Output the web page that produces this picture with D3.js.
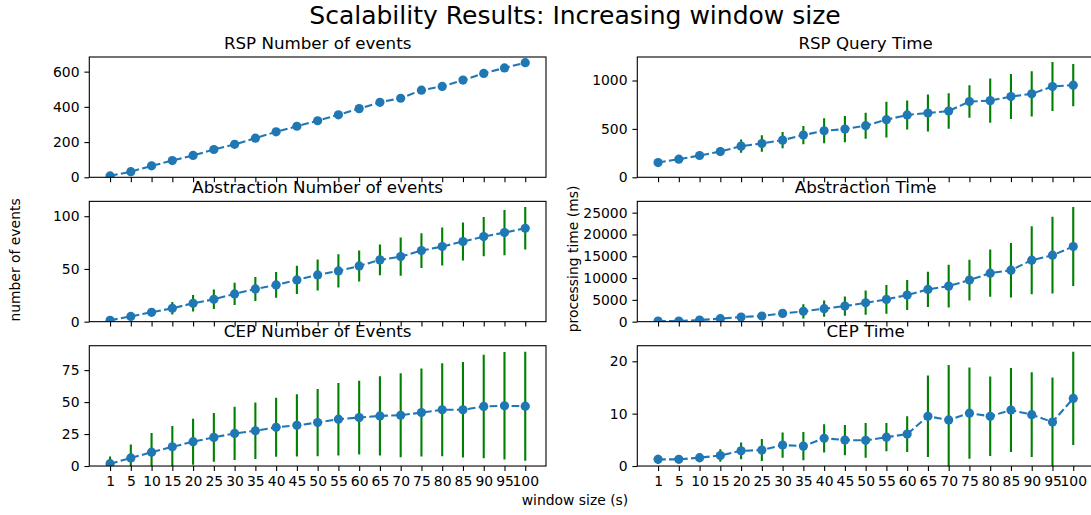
<!DOCTYPE html>
<html lang="en">
<head>
    <meta charset="UTF-8">
    <title>Scalability Results: Increasing window size</title>
    <script src="https://d3js.org/d3.v7.min.js"></script>
    <style>
        body {
            margin: 0;
            background: #fff;
            overflow: hidden;
        }
        svg {
            display: block;
            font-family: "DejaVu Sans", sans-serif;
        }
        .tick text {
            font-size: 13.9px;
            fill: #000;
        }
        .tick line {
            stroke: #000;
            stroke-width: 1.1;
        }
    </style>
</head>
<body>
    <script>
        // window sizes (categorical x axis)
        const windows = ["1", "5", "10", "15", "20", "25", "30", "35", "40", "45", "50",
                         "55", "60", "65", "70", "75", "80", "85", "90", "95", "100"];

        const rspEvents = [8, 32, 65, 95, 124, 158, 187, 222, 258, 290, 321, 355, 390, 426, 449, 495, 516, 552, 590, 621, 651];
        const rspEventsErr = [0, 0, 0, 0, 0, 0, 0, 0, 0, 0, 0, 0, 0, 0, 0, 0, 0, 0, 0, 0, 0];

        const rspTime = [152, 187, 225, 266, 322, 349, 384, 436, 481, 498, 533, 595, 644, 664, 685, 782, 792, 834, 862, 938, 952];
        const rspTimeErr = [15, 20, 30, 45, 69, 85, 83, 95, 130, 135, 135, 185, 149, 190, 183, 168, 228, 232, 233, 252, 218];

        const absEvents = [1.3, 5, 8.9, 12.7, 17.4, 21.2, 26.3, 31, 34.8, 39.6, 44.3, 48.1, 52.9, 58.6, 61.7, 67.4, 71.2, 76, 80.7, 84.5, 88.6];
        const absEventsErr = [0.5, 1.5, 3, 6, 7.8, 9.3, 10.5, 11.3, 12.2, 13.4, 14.7, 15.8, 14.7, 14.5, 18.2, 16.4, 18, 18, 18.6, 21.5, 20.1];

        const absTime = [150, 150, 380, 690, 1070, 1300, 1900, 2360, 2970, 3580, 4340, 5100, 6100, 7390, 8150, 9530, 11120, 11810, 14100, 15240, 17220];
        const absTimeErr = [50, 80, 150, 250, 350, 400, 800, 1650, 1860, 2210, 2780, 3310, 3430, 4040, 4920, 4690, 5410, 6250, 7810, 8800, 9060];

        const cepEvents = [1.8, 6.3, 10.8, 15, 19, 22.4, 25.5, 27.6, 30.3, 31.8, 34, 36.6, 37.9, 39.2, 39.7, 41.8, 44, 44, 46.6, 47.1, 46.8];
        const cepEventsErr = [5.6, 10.5, 15, 16.3, 18, 19.1, 20.8, 22.1, 23, 24.3, 26.3, 28.3, 28.8, 31, 32.8, 34.4, 36.3, 37.4, 40.5, 42, 42.6];

        const cepTime = [1.27, 1.27, 1.6, 2.0, 2.9, 3.05, 4.0, 3.8, 5.3, 4.95, 4.9, 5.5, 6.1, 9.5, 8.8, 10.1, 9.5, 10.7, 9.8, 8.4, 12.9];
        const cepTimeErr = [0.9, 0.6, 0.9, 1.2, 1.6, 2.1, 2.4, 2.7, 2.7, 2.9, 3.3, 2.7, 3.4, 7.8, 10.5, 8.7, 7.6, 8.0, 8.1, 8.5, 8.9];

        // y tick labels per panel
        const rspEventsTicks = [0, 200, 400, 600];
        const rspTimeTicks = [0, 500, 1000];
        const absEventsTicks = [0, 50, 100];
        const absTimeTicks = [0, 5000, 10000, 15000, 20000, 25000];
        const cepEventsTicks = [0, 25, 50, 75];
        const cepTimeTicks = [0, 10, 20];

        const panels = [
            { title: "RSP Number of events", values: rspEvents, err: rspEventsErr, ticks: rspEventsTicks, row: 0, col: 0 },
            { title: "RSP Query Time", values: rspTime, err: rspTimeErr, ticks: rspTimeTicks, row: 0, col: 1 },
            { title: "Abstraction Number of events", values: absEvents, err: absEventsErr, ticks: absEventsTicks, row: 1, col: 0 },
            { title: "Abstraction Time", values: absTime, err: absTimeErr, ticks: absTimeTicks, row: 1, col: 1 },
            { title: "CEP Number of Events", values: cepEvents, err: cepEventsErr, ticks: cepEventsTicks, row: 2, col: 0 },
            { title: "CEP Time", values: cepTime, err: cepTimeErr, ticks: cepTimeTicks, row: 2, col: 1 }
        ];

        const width = 1091;
        const height = 515;

        // subplot grid (matplotlib-like, wspace/hspace 0.2)
        const axW = 456.7;
        const axH = 120.3;
        const colX = [89.3, 637.3];
        const rowY = [57, 57 + axH * 1.2, 57 + axH * 2.4];
        const tickLen = 4.9;

        let svg = d3.select("body").append("svg")
            .attr("width", width)
            .attr("height", height);

        svg.append("rect")
            .attr("width", width)
            .attr("height", height)
            .attr("fill", "#fff");

        let x = d3.scalePoint()
            .domain(windows)
            .range([0, axW])
            .padding(1);

        panels.forEach((p, i) => {
            let hi = d3.max(p.values, (v, j) => v + p.err[j]);
            let lo = d3.min(p.values, (v, j) => v - p.err[j]);
            let y = d3.scaleLinear()
                .domain([0, hi + 0.05 * (hi - lo)])
                .range([axH, 0]);

            let g = svg.append("g")
                .attr("transform", `translate(${colX[p.col]},${rowY[p.row]})`);

            svg.append("clipPath")
                .attr("id", "clip" + i)
                .append("rect")
                .attr("width", axW)
                .attr("height", axH);

            let plot = g.append("g").attr("clip-path", `url(#clip${i})`);

            let rows = windows.map((w, j) => ({ w: w, v: p.values[j], e: p.err[j] }));

            plot.selectAll(".err")
                .data(rows.filter(d => d.e > 0))
                .enter().append("line")
                .attr("class", "err")
                .attr("x1", d => x(d.w))
                .attr("x2", d => x(d.w))
                .attr("y1", d => y(d.v - d.e))
                .attr("y2", d => y(d.v + d.e))
                .attr("stroke", "#008000")
                .attr("stroke-width", 2.1);

            plot.append("path")
                .datum(rows)
                .attr("fill", "none")
                .attr("stroke", "#1f77b4")
                .attr("stroke-width", 2.08)
                .attr("stroke-dasharray", "7.7,3.3")
                .attr("d", d3.line().x(d => x(d.w)).y(d => y(d.v)));

            plot.selectAll(".pt")
                .data(rows)
                .enter().append("circle")
                .attr("class", "pt")
                .attr("cx", d => x(d.w))
                .attr("cy", d => y(d.v))
                .attr("r", 4.6)
                .attr("fill", "#1f77b4");

            let xAxis = d3.axisBottom(x).tickSize(tickLen).tickPadding(4.9);
            if (p.row < 2) xAxis.tickFormat("");
            g.append("g")
                .attr("transform", `translate(0,${axH})`)
                .call(xAxis)
                .call(a => a.select(".domain").remove())
                .attr("font-family", null)
                .attr("font-size", null);

            g.append("g")
                .call(d3.axisLeft(y).tickValues(p.ticks).tickSize(tickLen).tickPadding(4.9).tickFormat(d3.format("d")))
                .call(a => a.select(".domain").remove())
                .attr("font-family", null)
                .attr("font-size", null);

            g.append("rect")
                .attr("width", axW)
                .attr("height", axH)
                .attr("fill", "none")
                .attr("stroke", "#000")
                .attr("stroke-width", 1.1);

            g.append("text")
                .attr("x", axW / 2)
                .attr("y", -8.3)
                .attr("text-anchor", "middle")
                .attr("font-size", "16.7px")
                .attr("fill", "#000")
                .text(p.title);
        });

        svg.append("text")
            .attr("x", 575)
            .attr("y", 24)
            .attr("text-anchor", "middle")
            .attr("font-size", "25px")
            .attr("fill", "#000")
            .text("Scalability Results: Increasing window size");

        svg.append("text")
            .attr("x", 575)
            .attr("y", 505)
            .attr("text-anchor", "middle")
            .attr("font-size", "13.9px")
            .attr("fill", "#000")
            .text("window size (s)");

        svg.append("text")
            .attr("transform", "translate(20,260) rotate(-90)")
            .attr("text-anchor", "middle")
            .attr("font-size", "13.9px")
            .attr("fill", "#000")
            .text("number of events");

        svg.append("text")
            .attr("transform", "translate(578,259) rotate(-90)")
            .attr("text-anchor", "middle")
            .attr("font-size", "13.9px")
            .attr("fill", "#000")
            .text("processing time (ms)");
    </script>
</body>
</html>
